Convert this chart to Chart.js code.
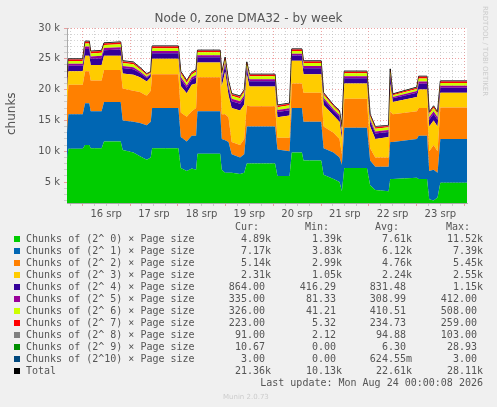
<!DOCTYPE html>
<html><head><meta charset="utf-8">
<script src="https://cdn.jsdelivr.net/npm/chart.js@4"></script>
<style>
body{margin:0;background:#f0f0f0;width:497px;height:407px;overflow:hidden;position:relative;font-family:"DejaVu Sans",sans-serif}
#wrap{position:absolute;left:0;top:0;width:497px;height:407px}
.t{position:absolute;white-space:pre}
#leg{position:absolute;left:0;top:0;width:497px;height:407px;font-family:"DejaVu Sans Mono",monospace;font-size:10px;color:#555}
.sq{position:absolute;width:6px;height:6px}
.c{position:absolute;text-align:right;white-space:pre;line-height:12px}
</style></head><body>
<div id="wrap"><canvas id="c" width="497" height="407"></canvas></div>
<div class="t" style="left:0;width:497px;top:11px;text-align:center;font-size:12px;color:#555">Node 0, zone DMA32 - by week</div>
<div class="t" style="font-size:12px;color:#555;transform:rotate(-90deg);transform-origin:left top;left:4px;top:135px">chunks</div>
<div class="t" style="left:481px;top:6px;font-size:7px;color:#ccc;writing-mode:vertical-rl">RRDTOOL / TOBI OETIKER</div>
<div id="leg"></div>
<script>
const hours=[16.3,17.0,24.2,25.4,27.5,28.2,33.7,34.9,43.3,44.3,49.7,53.0,56.4,58.4,59.1,72.3,73.5,76.5,79.0,81.2,81.9,93.3,94.1,95.8,97.5,99.1,103.3,105.4,106.7,108.0,120.9,122.1,128.2,129.3,134.4,135.2,144.1,145.3,150.3,153.3,154.5,155.7,167.1,168.7,171.3,178.0,178.8,180.1,192.2,193.1,197.3,198.4,200.6,202.6,204.0,217.4];
const s0=[8500,10400,10400,11000,11000,10500,10500,11600,11600,10200,9800,9200,8600,9000,10500,10500,7300,6800,7200,7000,9600,9600,7000,6500,6500,6500,6300,6500,8000,8000,8000,6000,6000,9800,9800,8500,8500,6200,5500,5000,3500,7300,7300,4500,3700,3500,5500,5500,5700,5500,5500,2200,2000,2500,4900,4900];
const s1=[4500,5600,5600,6800,6800,6000,6000,6400,6400,4800,5000,5400,5600,5800,6500,6500,5000,4800,5300,5500,6900,6900,5000,5300,5000,3000,2700,3000,6000,6000,6000,4300,4000,7200,7200,6300,6300,4300,4300,4000,4300,6500,6500,4000,3800,4000,6000,6000,6300,7000,7000,4600,5000,4000,7100,7100];
const s2=[4000,4800,4800,5200,5200,5000,5000,5200,5200,5200,5000,5000,4800,5000,5500,5500,4000,4000,4000,4500,5500,5500,4000,4200,4000,2000,2000,2500,3500,3300,3300,1900,2200,4000,4000,4700,4700,3500,3200,3000,1700,4700,4700,2000,1500,1500,5000,4500,4500,4500,4500,3200,4000,3500,5100,5100];
const s3=[3000,2200,2200,2500,2500,2500,2500,2300,2300,2400,2600,2400,2300,2200,2500,2500,4300,3800,4300,4000,2400,2400,4500,6900,3600,5500,5600,5600,5000,3200,3200,3300,3600,3700,3700,3000,3000,3500,2800,2800,2500,2500,2500,3500,3000,3300,4500,2000,2300,3000,3000,4000,4000,4000,2400,2400];
const s4=[860,860,860,1100,1100,1000,1100,900,1000,900,900,700,600,450,900,900,1100,900,860,1000,860,860,1000,1100,1100,1100,1100,1100,860,860,860,860,860,820,820,950,950,860,750,780,860,860,860,860,860,820,1100,600,700,950,950,1100,1100,1100,820,820];
const s5=[330,330,330,400,400,380,400,350,380,350,350,260,200,120,350,350,400,350,330,380,330,330,380,400,400,400,400,400,330,330,330,330,330,320,320,370,370,330,280,300,330,330,330,330,330,320,400,200,260,370,370,400,400,400,320,320];
const s6=[460,460,460,500,500,500,500,480,500,480,480,350,270,150,480,480,500,480,460,500,460,460,500,500,500,500,500,500,460,460,460,460,460,440,440,500,500,460,380,400,460,460,460,460,460,440,500,270,350,500,500,500,500,500,440,440];
const s7=[250,250,250,260,260,260,260,250,260,250,250,200,160,120,250,250,260,250,250,260,250,250,260,260,260,260,260,260,250,250,250,250,250,230,230,250,250,250,200,220,250,250,250,250,250,230,260,160,200,250,250,260,260,260,230,230];
const s8=[100,100,100,100,100,100,100,100,100,100,100,90,70,50,100,100,100,100,100,100,100,100,100,100,100,100,100,100,100,100,100,100,100,90,90,100,100,100,90,90,100,100,100,100,100,90,100,70,90,100,100,100,100,100,90,90];
const s9=[6,6,6,8,8,7,7,6,6,6,6,5,4,2,6,6,7,6,6,6,6,6,6,8,7,7,7,7,6,6,6,6,6,6,6,6,6,6,5,5,6,6,6,6,6,6,8,4,5,7,7,10,12,10,11,11];
const s10=[0,0,0,0,0,0,0,0,0,0,0,0,0,0,0,0,0,0,0,0,0,0,0,0,0,0,0,0,0,0,0,0,0,0,0,0,0,0,0,0,0,0,0,0,0,0,0,0,0,0,0,0,0,0,3,3];
const names=["Chunks of (2^ 0) × Page size","Chunks of (2^ 1) × Page size","Chunks of (2^ 2) × Page size","Chunks of (2^ 3) × Page size","Chunks of (2^ 4) × Page size","Chunks of (2^ 5) × Page size","Chunks of (2^ 6) × Page size","Chunks of (2^ 7) × Page size","Chunks of (2^ 8) × Page size","Chunks of (2^ 9) × Page size","Chunks of (2^10) × Page size","Total"];
const colors=["#00cc00","#0066b3","#ff8000","#ffcc00","#330099","#990099","#ccff00","#ff0000","#808080","#008f00","#00487d","#000000"];
const curV=["4.89k","7.17k","5.14k","2.31k","864.00 ","335.00 ","326.00 ","223.00 ","91.00 ","10.67 ","3.00 ","21.36k"];
const minV=["1.39k","3.83k","2.99k","1.05k","416.29 ","81.33 ","41.21 ","5.32 ","2.12 ","0.00 ","0.00 ","10.13k"];
const avgV=["7.61k","6.12k","4.76k","2.24k","831.48 ","308.99 ","410.51 ","234.73 ","94.88 ","6.30 ","624.55m","22.61k"];
const maxV=["11.52k","7.39k","5.45k","2.55k","1.15k","412.00 ","508.00 ","259.00 ","103.00 ","28.93 ","3.00 ","28.11k"];
const yTicks=[5000,10000,15000,20000,25000,30000];
const dayLabels=["16 srp","17 srp","18 srp","19 srp","20 srp","21 srp","22 srp","23 srp"];

const series=[s0,s1,s2,s3,s4,s5,s6,s7,s8,s9,s10];
const total=hours.map((h,i)=>series.reduce((a,s)=>a+s[i],0));
const datasets=series.map((s,k)=>({label:names[k],data:hours.map((h,i)=>({x:h,y:s[i]})),backgroundColor:colors[k],borderWidth:0,pointRadius:0,fill:k===0?'origin':'-1',stack:'a',tension:0}));
datasets.push({label:"Total",data:hours.map((h,i)=>({x:h,y:total[i]})),borderColor:"#000",borderWidth:1,pointRadius:0,fill:false,stack:'t',tension:0});

const bg={id:'bg',beforeDraw(c){const a=c.chartArea,x=c.ctx;x.save();x.fillStyle='#fff';x.fillRect(a.left,a.top,a.right-a.left,a.bottom-a.top);x.restore();}};
new Chart(document.getElementById('c'),{type:'line',data:{datasets},plugins:[bg],
options:{responsive:false,animation:false,layout:{padding:{left:0,right:30,top:28,bottom:184}},
plugins:{legend:{display:false},tooltip:{enabled:false}},
scales:{
x:{type:'linear',min:16.3,max:217.4,
 afterBuildTicks(s){const t=[];for(let h=18;h<=216;h+=6)t.push({value:h});s.ticks=t;},
 afterFit(s){s.height=20;},
 ticks:{autoSkip:false,maxRotation:0,color:'#555',font:{size:10,family:'DejaVu Sans'},padding:2,
  callback(v){return v%24===12?dayLabels[(v-36)/24]:'';}},
 grid:{color(c){return c.tick&&c.tick.value%24===0?'rgba(230,110,110,0.9)':'rgba(170,170,170,0.8)';},lineWidth:0.7,tickLength:3,drawTicks:true},
 border:{display:true,color:'#aaa',dash:[1,2]}},
y:{stacked:true,min:1600,max:30000,
 afterBuildTicks(s){const t=[];for(let v=2000;v<=30000;v+=1000)t.push({value:v});s.ticks=t;},
 afterFit(s){s.width=67;},
 ticks:{autoSkip:false,color:'#555',font:{size:10,family:'DejaVu Sans'},padding:4,
  callback(v){return yTicks.includes(v)?(v/1000)+' k':'';}},
 grid:{color(c){return c.tick&&c.tick.value%5000===0?'rgba(230,110,110,0.9)':'rgba(180,180,180,0.8)';},lineWidth:0.7,tickLength:3},
 border:{display:true,color:'#aaa',dash:[1,2]}}
}}});

const leg=document.getElementById('leg');
let html='';
const hdr=(txt,right,top)=>`<div class="c" style="right:${497-right}px;top:${top}px">${txt}</div>`;
html+=hdr('Cur:',259,221)+hdr('Min:',329,221)+hdr('Avg:',399,221)+hdr('Max:',470,221);
names.forEach((n,i)=>{const top=233+i*12;
 html+=`<div class="sq" style="left:14px;top:${top+3}px;background:${colors[i]}"></div>`;
 html+=`<div class="c" style="left:26px;top:${top}px;text-align:left">${n}</div>`;
 html+=hdr(curV[i],271,top)+hdr(minV[i],342,top)+hdr(avgV[i],412,top)+hdr(maxV[i],483,top);});
html+=hdr('Last update: Mon Aug 24 00:00:08 2026',483,377);
html+=`<div class="c" style="left:223px;top:391px;text-align:left;font-family:'DejaVu Sans';font-size:7px;color:#ccc">Munin 2.0.73</div>`;
leg.innerHTML=html;
</script></body></html>
